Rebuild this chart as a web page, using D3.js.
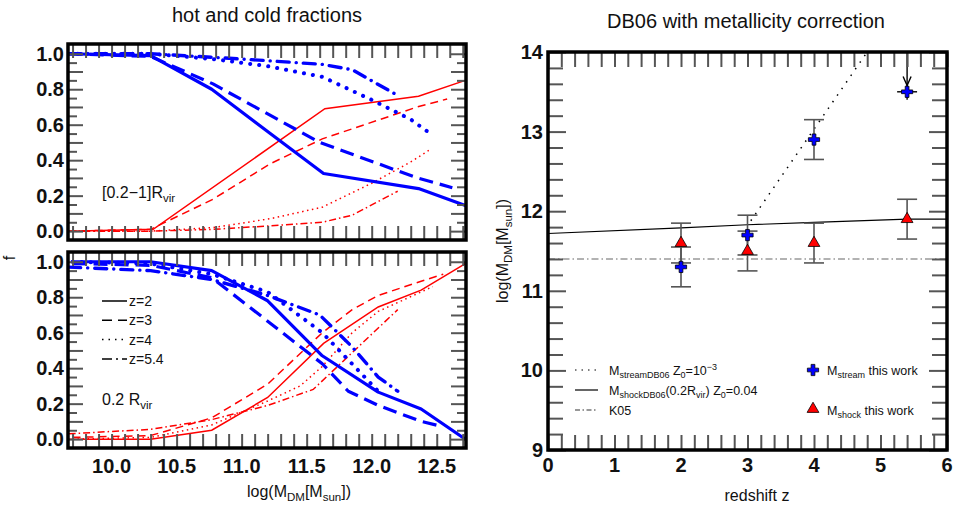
<!DOCTYPE html>
<html>
<head>
<meta charset="utf-8">
<script src="https://cdn.jsdelivr.net/npm/d3@7"></script>
<style>
  body { margin: 0; background: #fff; }
  text { font-family: "Liberation Sans", Arial, sans-serif; fill: #111; }
</style>
</head>
<body>
<script>
// cold (blue) and hot (red) fractions vs log halo mass, [0.2-1]Rvir shell
const coldOuterZ2 = [[9.67, 1.0], [10.3, 0.99], [10.77, 0.80], [11.22, 0.55], [11.63, 0.325], [12.36, 0.24], [12.72, 0.145]]
const coldOuterZ3 = [[9.67, 1.0], [10.3, 0.985], [10.78, 0.83], [11.6, 0.5], [12.35, 0.3], [12.62, 0.245]]
const coldOuterZ4 = [[9.67, 1.0], [10.3, 1.0], [10.78, 0.97], [11.2, 0.93], [11.62, 0.87], [12.0, 0.74], [12.3, 0.63], [12.45, 0.55]]
const coldOuterZ54 = [[9.67, 1.0], [10.3, 1.0], [10.78, 0.98], [11.22, 0.96], [11.62, 0.94], [11.85, 0.91], [12.2, 0.765]]
const hotOuterZ2 = [[9.67, 0.0], [10.32, 0.01], [11.64, 0.69], [12.36, 0.76], [12.72, 0.85]]
const hotOuterZ3 = [[9.67, 0.0], [10.3, 0.01], [10.78, 0.18], [11.22, 0.38], [11.62, 0.52], [12.35, 0.70], [12.58, 0.745]]
const hotOuterZ4 = [[9.67, 0.0], [10.3, 0.0], [10.78, 0.02], [11.22, 0.07], [11.62, 0.135], [12.0, 0.27], [12.3, 0.39], [12.45, 0.46]]
const hotOuterZ54 = [[9.67, 0.0], [10.3, 0.0], [10.78, 0.01], [11.22, 0.03], [11.62, 0.05], [11.85, 0.09], [12.2, 0.225]]

// same at 0.2 Rvir
const coldInnerZ2 = [[9.7, 1.0], [10.3, 1.0], [10.77, 0.95], [11.2, 0.78], [11.62, 0.47], [12.05, 0.265], [12.38, 0.17], [12.72, 0.0]]
const coldInnerZ3 = [[9.7, 0.99], [10.3, 0.98], [10.77, 0.91], [11.2, 0.665], [11.62, 0.425], [11.82, 0.27], [12.05, 0.19], [12.38, 0.1], [12.55, 0.07]]
const coldInnerZ4 = [[9.7, 1.0], [10.3, 0.99], [10.77, 0.93], [11.2, 0.83], [11.62, 0.6], [12.05, 0.27]]
const coldInnerZ54 = [[9.67, 0.97], [10.3, 0.95], [10.77, 0.9], [11.2, 0.81], [11.6, 0.7], [11.85, 0.52], [12.05, 0.35], [12.2, 0.27]]
const hotInnerZ2 = [[9.67, 0.0], [10.3, 0.0], [10.77, 0.05], [11.2, 0.235], [11.63, 0.54], [12.05, 0.745], [12.38, 0.84], [12.72, 0.99]]
const hotInnerZ3 = [[9.7, 0.01], [10.3, 0.02], [10.77, 0.12], [11.2, 0.31], [11.62, 0.6], [11.85, 0.73], [12.05, 0.81], [12.38, 0.89], [12.55, 0.93]]
const hotInnerZ4 = [[9.7, 0.0], [10.3, 0.01], [10.77, 0.08], [11.2, 0.215], [11.45, 0.3], [11.62, 0.41], [11.85, 0.6], [12.05, 0.72], [12.38, 0.83], [12.47, 0.86]]
const hotInnerZ54 = [[9.67, 0.03], [10.3, 0.055], [10.77, 0.11], [11.2, 0.19], [11.55, 0.28], [12.2, 0.73]]

const zNames = ['z=2', 'z=3', 'z=4', 'z=5.4']
const massTicks = [10.0, 10.5, 11.0, 11.5, 12.0, 12.5]
const fracTicks = [0, 0.2, 0.4, 0.6, 0.8, 1.0]

// right panel: transition mass vs redshift
const redshifts = [2, 3, 4, 5.4]
const streamMass = [11.3, 11.7, 12.9, 13.5]
const streamErr = [0.25, 0.25, 0.25, 0]
const shockMass = [11.6, 11.5, 11.6, 11.9]
const shockErr = [0.25, 0.25, 0.25, 0.25]
const streamDB06 = [[3.05, 11.88], [4.8, 14.0]]
const shockDB06 = [[0, 11.72], [2, 11.79], [3, 11.83], [4, 11.86], [5.4, 11.9], [6, 11.9]]
const k05Mass = 11.4
const redshiftTicks = [0, 1, 2, 3, 4, 5, 6]
const massTicksRight = [9, 10, 11, 12, 13, 14]

const BLUE = '#0000ff'
const RED = '#ff0000'
const TICK = '#555'

// line styles per redshift, index follows zNames
const blueDash = [null, '14,7', '0.1,9', '12,7,0.1,7']
const blueCap = ['butt', 'butt', 'round', 'round']
const blueWidth = [3.2, 3.2, 4, 3.4]
const redDash = [null, '8,5', '1.5,3.5', '7,3,1.5,3']
const legendDash = [null, '10,6', '1.5,5', '10,4,2,4']

const svg = d3.select('body').append('svg').attr('width', 953).attr('height', 507)

/**
 * Writes text made of plain, subscript and superscript parts.
 */
function richText (sel, parts, size) {
  let shift = 0
  parts.forEach((p) => {
    const target = p.sub ? size * 0.28 : p.sup ? -size * 0.4 : 0
    sel.append('tspan')
      .attr('dy', target - shift)
      .style('font-size', (p.sub || p.sup) ? (size * 0.72) + 'px' : null)
      .text(p.t)
    shift = target
  })
}

/**
 * Draws a comb of inward ticks with a d3 axis, no domain line, no labels.
 */
function tickComb (g, axis, values, size, tx, ty) {
  g.append('g')
    .attr('transform', `translate(${tx},${ty})`)
    .call(axis.tickValues(values).tickSize(size).tickSizeOuter(0).tickFormat(''))
    .call((a) => a.select('.domain').remove())
    .call((a) => a.selectAll('line').attr('stroke', TICK).attr('stroke-width', 2))
}

const x = d3.scaleLinear().domain([9.665, 12.725]).range([68, 466])
const massMinor = d3.range(97, 127.5).map((k) => k / 10)
const fracMinor = d3.range(0, 20.5).filter((k) => k % 2 === 1).map((k) => k * 0.05)
const fracMajor = d3.range(0, 10.5).map((k) => k / 10)

/**
 * Draws one hot / cold fraction panel.
 */
function fractionPanel (top, cold, hot, tag, showX) {
  const y = d3.scaleLinear().domain([-0.05, 1.055]).range([top + 196, top])
  const g = svg.append('g')
  const id = 'clip' + top
  g.append('clipPath').attr('id', id)
    .append('rect').attr('x', 68).attr('y', top).attr('width', 398).attr('height', 196)

  const line = d3.line().x((d) => x(d[0])).y((d) => y(d[1]))
  const lines = g.append('g').attr('clip-path', `url(#${id})`)
  hot.forEach((data, i) => {
    lines.append('path').datum(data)
      .attr('d', line).attr('fill', 'none')
      .attr('stroke', RED).attr('stroke-width', 1.5)
      .attr('stroke-dasharray', redDash[i])
  })
  cold.forEach((data, i) => {
    lines.append('path').datum(data)
      .attr('d', line).attr('fill', 'none')
      .attr('stroke', BLUE).attr('stroke-width', blueWidth[i])
      .attr('stroke-linecap', blueCap[i])
      .attr('stroke-linejoin', 'round')
      .attr('stroke-dasharray', blueDash[i])
  })

  // ticks on all four sides, pointing inward
  tickComb(g, d3.axisRight(y), fracMajor, 15, 68, 0)
  tickComb(g, d3.axisRight(y), fracMinor, 9, 68, 0)
  tickComb(g, d3.axisLeft(y), fracMajor, 15, 466, 0)
  tickComb(g, d3.axisLeft(y), fracMinor, 9, 466, 0)
  tickComb(g, d3.axisBottom(x), massMinor, 14, 0, top)
  tickComb(g, d3.axisTop(x), massMinor, 14, 0, top + 196)

  g.append('rect').attr('x', 68).attr('y', top).attr('width', 398).attr('height', 196)
    .attr('fill', 'none').attr('stroke', '#000').attr('stroke-width', 3.5)

  g.selectAll('.ylab').data(fracTicks).enter().append('text')
    .attr('class', 'ylab')
    .attr('x', 64).attr('y', (d) => y(d) + 7)
    .attr('text-anchor', 'end')
    .style('font-size', '20px').style('font-weight', 'bold')
    .text((d) => d.toFixed(1))

  if (showX) {
    g.selectAll('.xlab').data(massTicks).enter().append('text')
      .attr('class', 'xlab')
      .attr('x', (d) => x(d)).attr('y', top + 221)
      .attr('text-anchor', 'middle')
      .style('font-size', '20px').style('font-weight', 'bold')
      .text((d) => d.toFixed(1))
  }

  const t = g.append('text').attr('x', 102).attr('y', tag.y).style('font-size', '16px')
  richText(t, tag.parts, 16)
  return y
}

fractionPanel(44,
  [coldOuterZ2, coldOuterZ3, coldOuterZ4, coldOuterZ54],
  [hotOuterZ2, hotOuterZ3, hotOuterZ4, hotOuterZ54],
  { y: 198, parts: [{ t: '[0.2\u22121]R' }, { t: 'vir', sub: true }] }, false)

fractionPanel(252,
  [coldInnerZ2, coldInnerZ3, coldInnerZ4, coldInnerZ54],
  [hotInnerZ2, hotInnerZ3, hotInnerZ4, hotInnerZ54],
  { y: 405, parts: [{ t: '0.2 R' }, { t: 'vir', sub: true }] }, true)

// redshift legend in the lower panel
const zLegend = svg.append('g')
zNames.forEach((name, i) => {
  const ly = 301 + i * 19.3
  zLegend.append('line').attr('x1', 102).attr('x2', 127).attr('y1', ly).attr('y2', ly)
    .attr('stroke', '#000').attr('stroke-width', 1.5)
    .attr('stroke-dasharray', legendDash[i])
  zLegend.append('text').attr('x', 129).attr('y', ly + 5)
    .style('font-size', '14px').text(name)
})

svg.append('text').attr('x', 267).attr('y', 22).attr('text-anchor', 'middle')
  .style('font-size', '20px').text('hot and cold fractions')
svg.append('text').attr('transform', 'translate(15,258) rotate(-90)')
  .attr('text-anchor', 'middle').style('font-size', '16px').text('f')
const xTitle = svg.append('text').attr('x', 299).attr('y', 497).attr('text-anchor', 'middle')
  .style('font-size', '16px')
richText(xTitle, [{ t: 'log(M' }, { t: 'DM', sub: true }, { t: '[M' }, { t: 'sun', sub: true }, { t: '])' }], 16)

// ---------- right panel ----------
const zx = d3.scaleLinear().domain([0, 6]).range([548, 947])
const my = d3.scaleLinear().domain([9, 14]).range([450, 52])
const rg = svg.append('g')
rg.append('clipPath').attr('id', 'clipR')
  .append('rect').attr('x', 548).attr('y', 52).attr('width', 399).attr('height', 398)
const rline = d3.line().x((d) => zx(d[0])).y((d) => my(d[1]))
const rLines = rg.append('g').attr('clip-path', 'url(#clipR)')

rLines.append('path').datum([[0, k05Mass], [6, k05Mass]])
  .attr('d', rline).attr('fill', 'none').attr('stroke', '#666')
  .attr('stroke-width', 1.1).attr('stroke-dasharray', '7,3,1.5,3')
rLines.append('path').datum(shockDB06)
  .attr('d', rline).attr('fill', 'none').attr('stroke', '#000').attr('stroke-width', 1.1)
rLines.append('path').datum(streamDB06)
  .attr('d', rline).attr('fill', 'none').attr('stroke', '#000')
  .attr('stroke-width', 1.5).attr('stroke-dasharray', '1.5,6.5')

// error bars
function errorBar (zv, mv, ev) {
  if (ev <= 0) return
  const eg = rg.append('g').attr('stroke', '#555').attr('stroke-width', 1.6)
  eg.append('line').attr('x1', zx(zv)).attr('x2', zx(zv)).attr('y1', my(mv - ev)).attr('y2', my(mv + ev))
  ;[mv - ev, mv + ev].forEach((v) => {
    eg.append('line').attr('x1', zx(zv) - 10).attr('x2', zx(zv) + 10).attr('y1', my(v)).attr('y2', my(v))
  })
}
redshifts.forEach((zv, i) => {
  errorBar(zv, shockMass[i], shockErr[i])
  errorBar(zv, streamMass[i], streamErr[i])
})

// upper limit at the highest redshift
const last = redshifts.length - 1
const limit = rg.append('g').attr('stroke', '#000').attr('stroke-width', 1.4).attr('fill', 'none')
limit.append('line').attr('x1', zx(redshifts[last])).attr('x2', zx(redshifts[last]))
  .attr('y1', my(14)).attr('y2', my(13.58))
limit.append('path')
  .attr('d', `M${zx(redshifts[last]) - 4},${my(13.58) - 9}L${zx(redshifts[last])},${my(13.58)}L${zx(redshifts[last]) + 4},${my(13.58) - 9}`)
limit.append('line').attr('x1', zx(redshifts[last] - 0.15)).attr('x2', zx(redshifts[last] + 0.15))
  .attr('y1', my(streamMass[last])).attr('y2', my(streamMass[last]))
limit.append('line').attr('x1', zx(redshifts[last])).attr('x2', zx(redshifts[last]))
  .attr('y1', my(streamMass[last] - 0.1)).attr('y2', my(streamMass[last] + 0.1))

const cross = d3.symbol(d3.symbolCross, 70)
const tri = d3.symbol(d3.symbolTriangle, 60)
rg.selectAll('.shock').data(redshifts).enter().append('path')
  .attr('class', 'shock').attr('d', tri)
  .attr('transform', (d, i) => `translate(${zx(d)},${my(shockMass[i])})`)
  .attr('fill', RED).attr('stroke', '#000').attr('stroke-width', 0.8)
rg.selectAll('.stream').data(redshifts).enter().append('path')
  .attr('class', 'stream').attr('d', cross)
  .attr('transform', (d, i) => `translate(${zx(d)},${my(streamMass[i])})`)
  .attr('fill', BLUE).attr('stroke', '#000').attr('stroke-width', 0.8)

// ticks
const zMinor = d3.range(0, 30.5).map((k) => k * 0.2)
const mMinor = d3.range(45, 70.5).filter((k) => k % 5 !== 0).map((k) => k * 0.2)
tickComb(rg, d3.axisBottom(zx), zMinor, 15, 0, 52)
tickComb(rg, d3.axisTop(zx), zMinor, 15, 0, 450)
tickComb(rg, d3.axisRight(my), massTicksRight, 18, 548, 0)
tickComb(rg, d3.axisRight(my), mMinor, 15, 548, 0)
tickComb(rg, d3.axisLeft(my), massTicksRight, 18, 947, 0)
tickComb(rg, d3.axisLeft(my), mMinor, 15, 947, 0)
rg.append('rect').attr('x', 548).attr('y', 52).attr('width', 399).attr('height', 398)
  .attr('fill', 'none').attr('stroke', '#000').attr('stroke-width', 3.5)

rg.selectAll('.rx').data(redshiftTicks).enter().append('text')
  .attr('class', 'rx').attr('x', (d) => zx(d)).attr('y', 472)
  .attr('text-anchor', 'middle').style('font-size', '20px').style('font-weight', 'bold')
  .text((d) => d)
rg.selectAll('.ry').data(massTicksRight).enter().append('text')
  .attr('class', 'ry').attr('x', 543).attr('y', (d) => my(d) + 7)
  .attr('text-anchor', 'end').style('font-size', '20px').style('font-weight', 'bold')
  .text((d) => d)

// legends
const lineLegend = [
  { dash: '1.5,5', color: '#000', parts: [{ t: 'M' }, { t: 'streamDB06', sub: true }, { t: ' Z' }, { t: '0', sub: true }, { t: '=10' }, { t: '\u22123', sup: true }] },
  { dash: null, color: '#000', parts: [{ t: 'M' }, { t: 'shockDB06', sub: true }, { t: '(0.2R' }, { t: 'vir', sub: true }, { t: ') Z' }, { t: '0', sub: true }, { t: '=0.04' }] },
  { dash: '5,2.5,1.5,2.5', color: '#333', parts: [{ t: 'K05' }] }
]
lineLegend.forEach((item, i) => {
  const ly = 370 + i * 20
  rg.append('line').attr('x1', 575).attr('x2', 598).attr('y1', ly).attr('y2', ly)
    .attr('stroke', item.color).attr('stroke-width', 1.2).attr('stroke-dasharray', item.dash)
  const t = rg.append('text').attr('x', 609).attr('y', ly + 4.5).style('font-size', '12.5px')
  richText(t, item.parts, 12.5)
})
rg.append('path').attr('d', cross).attr('transform', 'translate(813,370)')
  .attr('fill', BLUE).attr('stroke', '#000').attr('stroke-width', 0.8)
richText(rg.append('text').attr('x', 827).attr('y', 374.5).style('font-size', '12.5px'),
  [{ t: 'M' }, { t: 'stream', sub: true }, { t: ' this work' }], 12.5)
rg.append('path').attr('d', tri).attr('transform', 'translate(813,409)')
  .attr('fill', RED).attr('stroke', '#000').attr('stroke-width', 0.8)
richText(rg.append('text').attr('x', 827).attr('y', 414.5).style('font-size', '12.5px'),
  [{ t: 'M' }, { t: 'shock', sub: true }, { t: ' this work' }], 12.5)

svg.append('text').attr('x', 746).attr('y', 28).attr('text-anchor', 'middle')
  .style('font-size', '20px').text('DB06 with metallicity correction')
svg.append('text').attr('x', 757).attr('y', 501).attr('text-anchor', 'middle')
  .style('font-size', '16px').text('redshift z')
const yTitle = svg.append('text').attr('transform', 'translate(508,251) rotate(-90)')
  .attr('text-anchor', 'middle').style('font-size', '16px')
richText(yTitle, [{ t: 'log(M' }, { t: 'DM', sub: true }, { t: '[M' }, { t: 'sun', sub: true }, { t: '])' }], 16)
</script>
</body>
</html>
